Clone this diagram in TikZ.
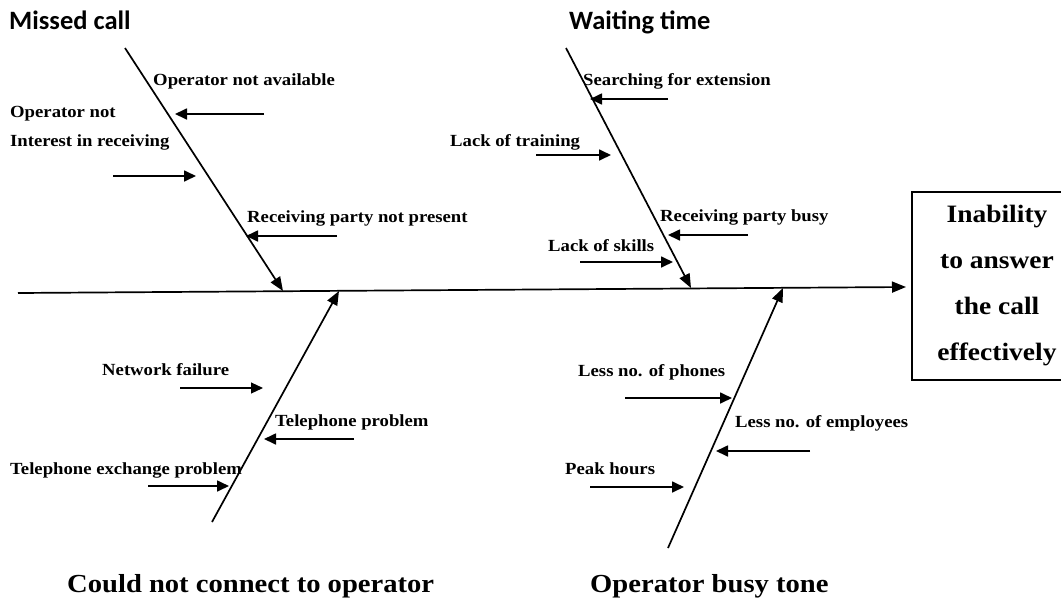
\documentclass[tikz,border=0pt]{standalone}
\usepackage{fontspec}
\setmainfont[FakeStretch=1.1]{Liberation Serif}
\newfontfamily\headfont{Carlito}
\usetikzlibrary{arrows.meta, positioning}
\tikzset{
  bone/.style = {line width=1.7pt, -{Triangle[length=14pt, width=11pt]}},
  cause/.style = {line width=1.7pt, -{Triangle[length=12pt, width=11pt]}},
  causetext/.style = {anchor=base west, inner sep=0pt, font=\fontsize{17}{20}\selectfont\bfseries},
  headtext/.style = {anchor=base west, inner sep=0pt, font=\fontsize{26.5}{30}\headfont\bfseries},
  foottext/.style = {anchor=base west, inner sep=0pt, font=\fontsize{26}{30}\selectfont\bfseries}
}

\begin{document}
\begin{tikzpicture}[x=1pt, y=-1pt]

    \useasboundingbox (0,0) rectangle (1061,598);

    %% Fishbone

    % Effect
    \node[draw, line width=1.2pt, minimum width=170pt, minimum height=188pt, align=center,
          font=\fontsize{25}{46}\selectfont\bfseries] (effect) at (997,286)
          {Inability\\to answer\\the call\\effectively};

    % Spine
    \coordinate (tail) at (18,293);
    \coordinate (head) at (906,287);
    \draw[bone] (tail) -- (head);

    % Bones
    \coordinate (missTop) at (125,48);   \coordinate (missEnd) at (283,291);
    \coordinate (waitTop) at (566,48);   \coordinate (waitEnd) at (691,288);
    \coordinate (connBot) at (212,522);  \coordinate (connEnd) at (339,291);
    \coordinate (busyBot) at (668,548);  \coordinate (busyEnd) at (783,288);
    \draw[bone] (missTop) -- (missEnd);
    \draw[bone] (waitTop) -- (waitEnd);
    \draw[bone] (connBot) -- (connEnd);
    \draw[bone] (busyBot) -- (busyEnd);

    % Headings
    \node[headtext] (miss) at (9,29) {Missed call};
    \node[headtext] (wait) at (569,29) {Waiting time};
    \node[foottext] (conn) at (67,592) {Could not connect to operator};
    \node[foottext] (busy) at (590,592) {Operator busy tone};

    % Missed call
    \node[causetext] (m1) at (153,85) {Operator not available};
    \node[causetext] (m2) at (10,117) {Operator not};
    \node[causetext] (m3) at (10,146) {Interest in receiving};
    \node[causetext] (m4) at (247,222) {Receiving party not present};
    \coordinate (m1a) at (264,114);  \coordinate (m1b) at (175,114);
    \coordinate (m3a) at (113,176);  \coordinate (m3b) at (196,176);
    \coordinate (m4a) at (337,236);  \coordinate (m4b) at (246,236);
    \draw[cause] (m1a) -- (m1b);
    \draw[cause] (m3a) -- (m3b);
    \draw[cause] (m4a) -- (m4b);

    % Waiting time
    \node[causetext] (w1) at (583,85) {Searching for extension};
    \node[causetext] (w2) at (450,146) {Lack of training};
    \node[causetext] (w3) at (660,221) {Receiving party busy};
    \node[causetext] (w4) at (548,251) {Lack of skills};
    \coordinate (w1a) at (668,99);   \coordinate (w1b) at (590,99);
    \coordinate (w2a) at (536,155);  \coordinate (w2b) at (611,155);
    \coordinate (w3a) at (748,235);  \coordinate (w3b) at (668,235);
    \coordinate (w4a) at (580,262);  \coordinate (w4b) at (673,262);
    \draw[cause] (w1a) -- (w1b);
    \draw[cause] (w2a) -- (w2b);
    \draw[cause] (w3a) -- (w3b);
    \draw[cause] (w4a) -- (w4b);

    % Could not connect
    \node[causetext] (c1) at (102,375) {Network failure};
    \node[causetext] (c2) at (275,426) {Telephone problem};
    \node[causetext] (c3) at (10,474) {Telephone exchange problem};
    \coordinate (c1a) at (180,388);  \coordinate (c1b) at (263,388);
    \coordinate (c2a) at (354,439);  \coordinate (c2b) at (264,439);
    \coordinate (c3a) at (148,486);  \coordinate (c3b) at (229,486);
    \draw[cause, line width=1.1pt] (c1a) -- (c1b);
    \draw[cause] (c2a) -- (c2b);
    \draw[cause] (c3a) -- (c3b);

    % Busy tone
    \node[causetext] (b1) at (578,376) {Less no. of phones};
    \node[causetext] (b2) at (735,427) {Less no. of employees};
    \node[causetext] (b3) at (565,474) {Peak hours};
    \coordinate (b1a) at (625,398);  \coordinate (b1b) at (732,398);
    \coordinate (b2a) at (810,451);  \coordinate (b2b) at (716,451);
    \coordinate (b3a) at (590,487);  \coordinate (b3b) at (684,487);
    \draw[cause] (b1a) -- (b1b);
    \draw[cause] (b2a) -- (b2b);
    \draw[cause] (b3a) -- (b3b);

\end{tikzpicture}
\end{document}
